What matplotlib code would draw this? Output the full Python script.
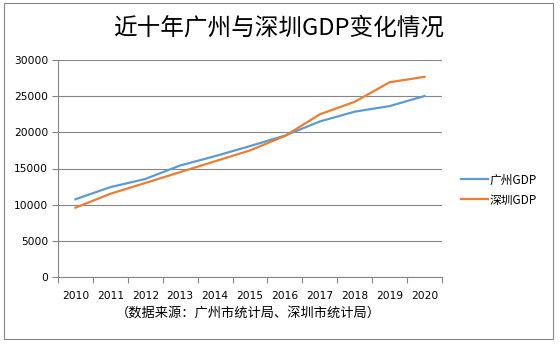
import matplotlib
matplotlib.use("Agg")
import matplotlib.pyplot as plt
import numpy as np

plt.rcParams["font.family"] = ["Noto Sans CJK SC", "DejaVu Sans"]

years = ["2010", "2011", "2012", "2013", "2014", "2015",
         "2016", "2017", "2018", "2019", "2020"]
guangzhou = [10748, 12423, 13551, 15420, 16707, 18100,
             19547, 21503, 22859, 23629, 25019]
shenzhen = [9582, 11506, 13000, 14500, 16002, 17503,
            19493, 22490, 24222, 26927, 27670]
series_labels = ["广州GDP", "深圳GDP"]
title = "近十年广州与深圳GDP变化情况"
source = "（数据来源：广州市统计局、深圳市统计局）"

fig = plt.figure(figsize=(5.6, 3.48), dpi=100)
ax = fig.add_axes([58 / 560, 1 - 277 / 348, 384 / 560, 217 / 348])

x = np.arange(len(years))
ax.plot(x, guangzhou, color="#5B9BD5", lw=1.6, label=series_labels[0])
ax.plot(x, shenzhen, color="#ED7D31", lw=1.6, label=series_labels[1])

ax.set_xlim(-0.5, len(years) - 0.5)
ax.set_ylim(0, 30000)
ax.set_yticks(np.arange(0, 30001, 5000))
# ticks sit on the category edges, labels in the middle of each band
ax.set_xticks(np.arange(-0.5, len(years), 1.0))
ax.set_xticklabels([])
ax.set_xticks(x, minor=True)
ax.set_xticklabels(years, minor=True)
ax.tick_params(axis="x", which="minor", length=0, pad=10, labelsize=7.7,
               colors="black")
ax.tick_params(axis="x", which="major", length=4, color="#868686")
ax.tick_params(axis="y", length=4, color="#868686", labelsize=7.7, pad=3)
for lbl in ax.get_xticklabels(minor=True) + ax.get_yticklabels():
    lbl.set_family(["DejaVu Sans"])

ax.grid(axis="y", color="#868686", lw=0.8)
ax.set_axisbelow(True)
for s in ["top", "right"]:
    ax.spines[s].set_visible(False)
for s in ["left", "bottom"]:
    ax.spines[s].set_color("#868686")
    ax.spines[s].set_linewidth(0.8)

ax.legend(loc="center left", bbox_to_anchor=(461 / 560, 1 - 190 / 348),
          bbox_transform=fig.transFigure, frameon=False, fontsize=8.5,
          handlelength=2.3, handletextpad=0.15, labelspacing=0.6,
          borderpad=0, borderaxespad=0)

fig.text(279 / 560, 1 - 28 / 348, title, ha="center", va="center",
         fontsize=17)
fig.text(248 / 560, 1 - 313 / 348, source, ha="center", va="center",
         fontsize=9.5)

frame = plt.Rectangle((4 / 560, 1 - 339 / 348), 549 / 560, 336 / 348,
                      transform=fig.transFigure, fill=False,
                      edgecolor="#868686", lw=0.8)
fig.patches.append(frame)

fig.savefig("out.png", dpi=100)
